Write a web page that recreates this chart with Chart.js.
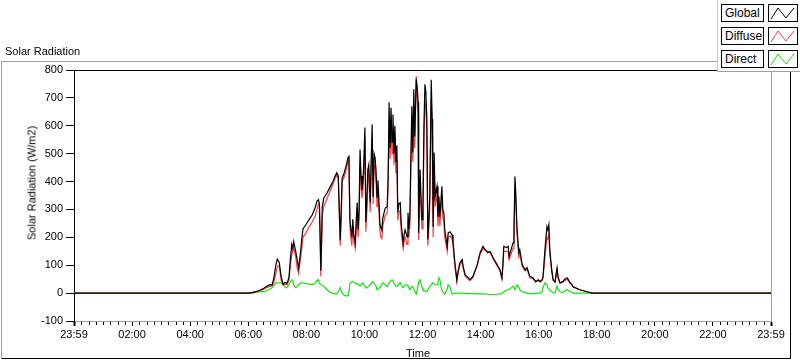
<!DOCTYPE html>
<html>
<head>
<meta charset="utf-8">
<title>Solar Radiation</title>
<script src="https://cdn.jsdelivr.net/npm/chart.js@4"></script>
<style>
  body { margin: 0; background: #fff; font-family: "Liberation Sans", Arial, sans-serif; color: #000; }
  #wrap { position: relative; width: 800px; height: 361px; overflow: hidden; }
  #frame { position: absolute; left: 1px; top: 61px; width: 790px; height: 298px; box-sizing: border-box;
           border-left: 1px solid #a0a0a0; border-top: 1px solid #a0a0a0;
           border-right: 1px solid #000; border-bottom: 1px solid #000; }
  canvas { position: absolute; left: 0; top: 0; }
  .lbl { position: absolute; font-size: 11px; white-space: nowrap; line-height: 13px; }
  #ytitle { left: 32px; top: 183px; transform: translate(-50%, -50%) rotate(-90deg); }
  #legend { position: absolute; left: 717px; top: 0; width: 83px; height: 72px; background: #fff;
            border-left: 1px solid #c8c8c8; border-bottom: 1px solid #a0a0a0; box-sizing: border-box; }
  .ltext { position: absolute; left: 3px; width: 43px; height: 18px; box-sizing: border-box; border: 1px solid #000;
           font-size: 12px; line-height: 16px; padding-left: 3px; background: #fff; }
  .lsym { position: absolute; left: 50px; width: 30px; height: 18px; box-sizing: border-box; border: 1px solid #000; background: #fff; }
  .lsym svg { position: absolute; left: 0; top: 0; }
</style>
</head>
<body>
<div id="wrap">
  <div id="frame"></div>
  <canvas id="solarChart" width="800" height="361"></canvas>
  <div class="lbl" style="left:5px; top:45px;">Solar Radiation</div>
  <div class="lbl" id="ytitle">Solar Radiation (W/m2)</div>
  <div class="lbl" style="left:406px; top:347px;">Time</div>
  <div id="legend"></div>
</div>
<script>
// Time of each sample (HH:MM), and the three radiation series in W/m2
const times = [
  "00:00","06:00","06:08","06:18","06:26","06:33","06:39","06:45","06:49","06:53",
  "06:57","07:00","07:04","07:08","07:12","07:16","07:20","07:24","07:27","07:30",
  "07:32","07:34","07:38","07:41","07:44","07:47","07:50","07:53","07:59","08:05",
  "08:12","08:18","08:22","08:25","08:27","08:30","08:33","08:36","08:43","08:49",
  "08:55","08:59","09:03","09:06","09:10","09:12","09:14","09:18","09:22","09:26",
  "09:28","09:30","09:32","09:34","09:36","09:38","09:41","09:43","09:45","09:47",
  "09:49","09:51","09:53","09:55","09:57","09:59","10:01","10:03","10:05","10:07",
  "10:09","10:12","10:14","10:16","10:18","10:20","10:22","10:24","10:26","10:28",
  "10:30","10:32","10:34","10:36","10:38","10:43","10:47","10:49","10:51","10:53",
  "10:55","10:57","10:59","11:01","11:03","11:05","11:07","11:09","11:11","11:14",
  "11:16","11:18","11:20","11:22","11:24","11:26","11:28","11:30","11:32","11:34",
  "11:36","11:38","11:40","11:42","11:44","11:47","11:49","11:51","11:52","11:55",
  "11:57","11:59","12:01","12:03","12:05","12:07","12:09","12:11","12:13","12:15",
  "12:18","12:20","12:21","12:22","12:24","12:26","12:30","12:32","12:34","12:36",
  "12:38","12:40","12:42","12:44","12:46","12:51","12:53","12:57","13:01","13:03",
  "13:07","13:11","13:13","13:17","13:22","13:24","13:28","13:32","13:38","13:44",
  "13:53","13:59","14:05","14:09","14:15","14:20","14:26","14:34","14:40","14:44",
  "14:46","14:48","14:53","14:57","14:59","15:03","15:07","15:09","15:11","15:13",
  "15:15","15:19","15:21","15:26","15:32","15:36","15:42","15:48","15:54","15:59",
  "16:03","16:07","16:09","16:13","16:17","16:19","16:21","16:23","16:27","16:30",
  "16:34","16:36","16:38","16:40","16:44","16:50","16:54","16:59","17:05","17:09",
  "17:11","17:25","17:40","17:50","24:00"
];

const globalRad = [
  0, 0, 2, 6, 12, 18, 25, 30, 28, 55,
  100, 122, 110, 60, 32, 38, 35, 55, 120, 175,
  160, 185, 150, 120, 90, 130, 185, 230, 245, 262,
  280, 305, 330, 335, 320, 80, 310, 340, 360, 380,
  400, 418, 432, 420, 190, 300, 412, 430, 455, 485,
  490, 265, 230, 200, 265, 210, 180, 260, 325, 228,
  300, 515, 420, 370, 405, 480, 594, 255, 330, 443,
  460, 325, 480, 605, 345, 500, 486, 440, 345, 405,
  330, 250, 235, 225, 270, 305, 310, 420, 684, 520,
  665, 540, 640, 500, 600, 470, 530, 290, 320, 324,
  250, 216, 180, 210, 227, 215, 202, 288, 230, 288,
  490, 670, 504, 731, 562, 768, 740, 684, 216, 443,
  340, 263, 324, 600, 749, 720, 623, 192, 260, 346,
  765, 623, 443, 238, 504, 346, 383, 274, 346, 274,
  330, 383, 300, 288, 227, 168, 216, 220, 209, 185,
  108, 48, 73, 108, 120, 95, 66, 59, 48, 59,
  102, 145, 168, 156, 145, 149, 127, 102, 84, 55,
  100, 168, 163, 168, 131, 156, 180, 227, 418, 346,
  238, 145, 156, 102, 84, 91, 59, 55, 41, 48,
  41, 48, 59, 156, 238, 227, 245, 156, 84, 48,
  41, 70, 91, 59, 37, 41, 50, 55, 37, 30,
  23, 12, 5, 0, 0
];

const diffuseRad = [
  0, 0, 2, 6, 10, 15, 20, 25, 26, 40,
  70, 95, 100, 45, 30, 32, 30, 45, 100, 140,
  150, 160, 130, 90, 70, 110, 150, 200, 215, 235,
  255, 275, 300, 320, 315, 60, 280, 310, 340, 365,
  390, 410, 425, 410, 170, 260, 400, 415, 440, 470,
  480, 240, 200, 170, 240, 190, 160, 230, 290, 200,
  270, 470, 380, 340, 370, 440, 560, 220, 290, 400,
  420, 290, 440, 560, 320, 460, 450, 400, 310, 370,
  290, 220, 200, 195, 240, 280, 285, 380, 620, 480,
  600, 500, 590, 460, 540, 430, 480, 260, 290, 295,
  220, 190, 160, 185, 200, 190, 175, 260, 200, 250,
  440, 610, 470, 680, 520, 778, 700, 640, 190, 400,
  300, 230, 290, 550, 690, 660, 580, 170, 230, 310,
  700, 570, 400, 200, 460, 310, 350, 240, 310, 240,
  300, 350, 270, 260, 200, 150, 200, 205, 195, 170,
  95, 40, 65, 100, 112, 90, 62, 55, 45, 55,
  98, 140, 160, 155, 150, 145, 122, 98, 80, 50,
  90, 150, 150, 150, 120, 140, 160, 200, 380, 320,
  220, 130, 140, 95, 80, 85, 55, 52, 40, 45,
  40, 45, 55, 130, 200, 195, 215, 140, 75, 45,
  38, 60, 80, 55, 35, 40, 45, 50, 35, 30,
  23, 12, 5, 0, 0
];

const directRad = [
  0, 0, 0, 3, 5, 5, 10, 15, 19, 28,
  37, 37, 37, 37, 30, 22, 19, 30, 40, 48,
  45, 30, 20, 25, 30, 35, 37, 37, 34, 33,
  30, 35, 45, 48, 35, 30, 28, 25, 12, 2,
  0, -3, -3, 5, 20, 10, 0, -8, -10, -10,
  5, 35, 38, 40, 41, 38, 36, 35, 34, 30,
  28, 25, 30, 35, 37, 30, 25, 19, 19, 22,
  25, 30, 35, 40, 41, 35, 30, 25, 12, 15,
  18, 19, 25, 30, 37, 30, 23, 30, 37, 40,
  44, 48, 45, 35, 30, 25, 23, 28, 33, 37,
  30, 22, 19, 24, 28, 30, 30, 25, 18, 12,
  18, 23, 23, 15, 5, -3, 10, 30, 40, 48,
  35, 20, 12, 10, 8, 5, 5, 12, 18, 23,
  30, 35, 37, 37, 33, 30, 30, 40, 55, 48,
  25, 10, 5, 0, -3, 15, 30, 20, -3, -2,
  0, 0, 0, 0, 0, 0, -1, -2, -2, -2,
  -3, -3, -3, -3, -4, -5, -5, -4, -3, -3,
  3, 5, 10, 12, 14, 18, 25, 20, 12, 20,
  30, 20, 12, 5, 2, 0, -3, -2, -1, 0,
  0, 5, 20, 37, 30, 20, 15, 10, 5, 2,
  0, 15, 25, 12, 5, 2, 8, 12, 5, 2,
  0, 0, 0, 0, 0
];

// Axis ticks
const xTickMinutes = [0, 120, 240, 360, 480, 600, 720, 840, 960, 1080, 1200, 1320, 1440];
const xTickLabels = ["23:59", "02:00", "04:00", "06:00", "08:00", "10:00", "12:00",
                     "14:00", "16:00", "18:00", "20:00", "22:00", "23:59"];

const seriesNames = ["Global", "Diffuse", "Direct"];
const seriesColors = ["#000000", "#ff3c3c", "#14e014"];

function toMinutes(t) {
    const p = t.split(":");
    return parseInt(p[0]) * 60 + parseInt(p[1]);
}

function toPoints(values) {
    return times.map((t, i) => ({ x: toMinutes(t), y: values[i] }));
}

// Legend (HTML boxes like the original panel)
const legend = document.getElementById("legend");
seriesNames.forEach((name, i) => {
    const top = 4 + i * 23;
    legend.innerHTML +=
        '<div class="ltext" style="top:' + top + 'px">' + name + '</div>' +
        '<div class="lsym" style="top:' + top + 'px"><svg width="28" height="16">' +
        '<polyline points="2,14 9,3 17,13 25,3" fill="none" stroke="' + seriesColors[i] + '" stroke-width="1"/></svg></div>';
});

// Draws the plot frame (top black, right gray) and the 15 minute minor ticks
const framePlugin = {
    id: "framePlugin",
    afterDraw(chart) {
        const c = chart.ctx;
        const a = chart.chartArea;
        const xs = chart.scales.x;
        c.save();
        c.lineWidth = 1;
        c.strokeStyle = "#000";
        c.beginPath();
        c.moveTo(a.left, a.top + 0.5);
        c.lineTo(a.right, a.top + 0.5);
        c.stroke();
        c.strokeStyle = "#a0a0a0";
        c.beginPath();
        c.moveTo(a.right + 0.5, a.top);
        c.lineTo(a.right + 0.5, a.bottom);
        c.stroke();
        c.strokeStyle = "#000";
        c.beginPath();
        for (let m = 0; m <= 1440; m += 15) {
            if (m % 120 === 0) continue;
            const px = Math.round(xs.getPixelForValue(m)) + 0.5;
            c.moveTo(px, a.bottom + 1);
            c.lineTo(px, a.bottom + 4);
        }
        c.stroke();
        c.restore();
    }
};

const ctx = document.getElementById("solarChart").getContext("2d");
const tickFont = { family: "'Liberation Sans', Arial, sans-serif", size: 11 };

const solarChart = new Chart(ctx, {
    type: "line",
    data: {
        datasets: seriesNames.map((name, i) => ({
            label: name,
            data: toPoints([globalRad, diffuseRad, directRad][i]),
            borderColor: seriesColors[i],
            borderWidth: 1.2,
            pointRadius: 0,
            tension: 0,
            fill: false
        }))
    },
    options: {
        responsive: false,
        animation: false,
        layout: { padding: { left: 0, right: 29, top: 70, bottom: 0 } },
        plugins: {
            legend: { display: false },
            tooltip: { enabled: false }
        },
        scales: {
            x: {
                type: "linear",
                min: 0,
                max: 1440,
                afterBuildTicks: (scale) => { scale.ticks = xTickMinutes.map(v => ({ value: v })); },
                afterFit: (scale) => { scale.height = 40; },
                ticks: {
                    autoSkip: false,
                    maxRotation: 0,
                    padding: 2,
                    color: "#000",
                    font: tickFont,
                    callback: (v, i) => xTickLabels[i]
                },
                grid: { drawOnChartArea: false, tickLength: 5, tickColor: "#000",
                        tickWidth: (c) => (c.index === 0 || c.index === xTickMinutes.length - 1) ? 2 : 1 },
                border: { color: "#a0a0a0" }
            },
            y: {
                min: -100,
                max: 800,
                afterFit: (scale) => { scale.width = 74; },
                ticks: { stepSize: 100, padding: 3, color: "#000", font: tickFont },
                grid: { drawOnChartArea: false, tickLength: 8, tickColor: "#000" },
                border: { color: "#000" }
            }
        }
    },
    plugins: [framePlugin]
});
</script>
</body>
</html>
